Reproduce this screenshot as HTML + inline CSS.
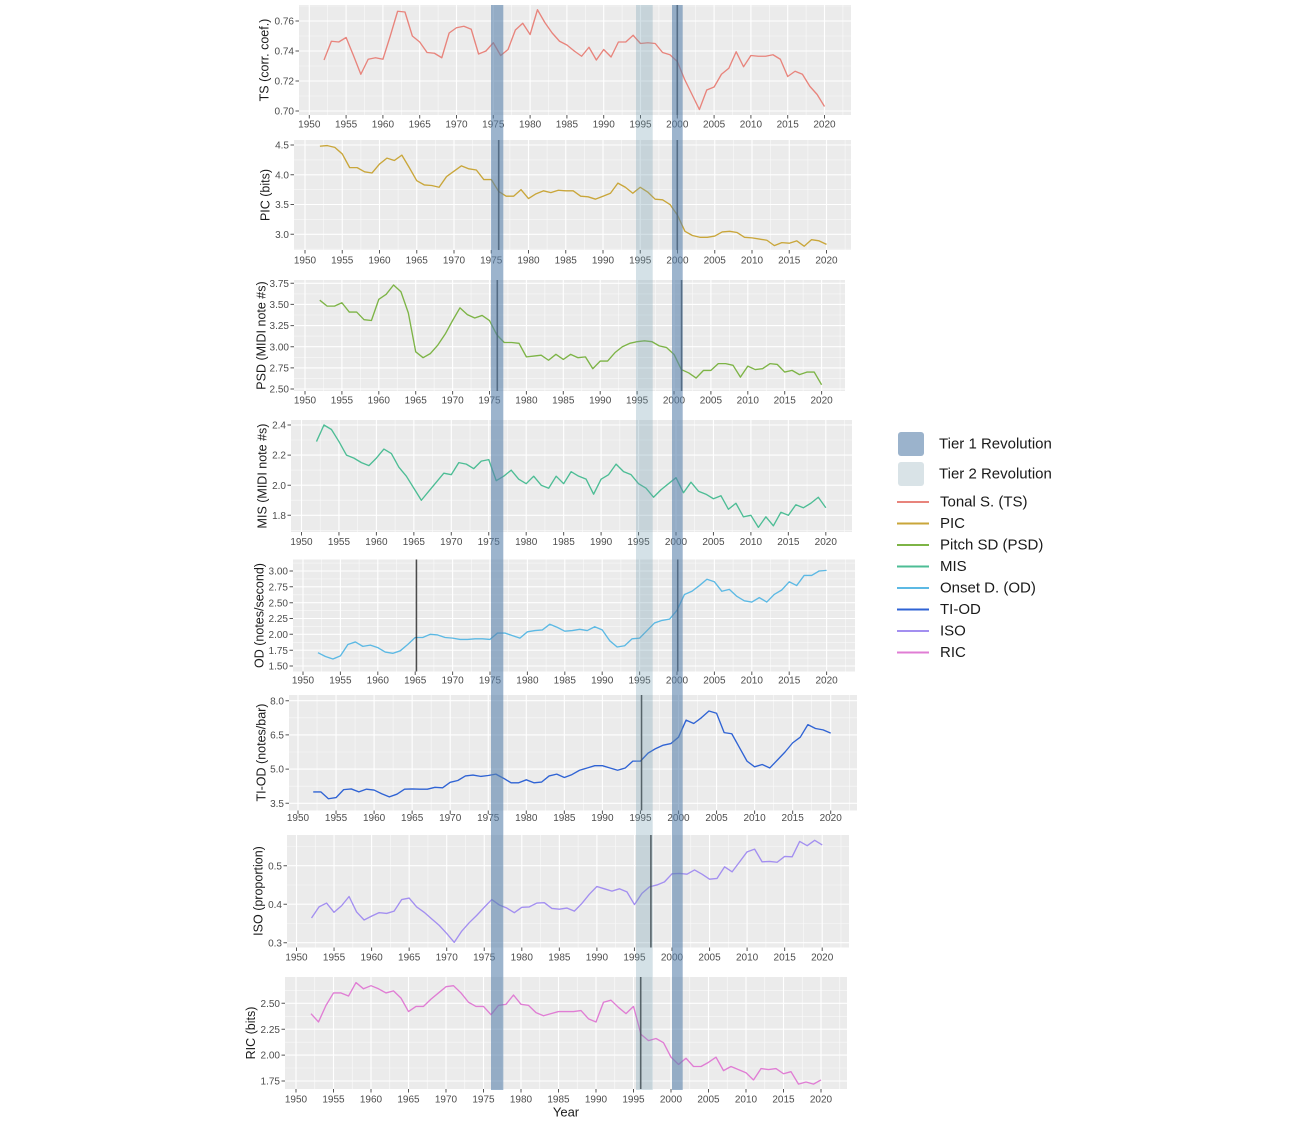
<!DOCTYPE html>
<html><head><meta charset="utf-8"><style>
html,body{margin:0;padding:0;background:#fff;width:1300px;height:1122px;overflow:hidden;}
svg{display:block;font-family:"Liberation Sans",Arial,sans-serif;}
.mj{stroke:#fff;stroke-width:1.1;fill:none;}
.mn{stroke:#fafafa;stroke-width:0.6;fill:none;}
.ln{fill:none;stroke-width:1.35;stroke-linejoin:round;vector-effect:non-scaling-stroke;}
.tk{stroke:#555;stroke-width:1;fill:none;}
.vl{stroke:#262626;stroke-width:1.6;opacity:0.9;}
</style></head><body>
<svg width="1300" height="1122" viewBox="0 0 1300 1122" xmlns="http://www.w3.org/2000/svg">
<defs>
<path id="vm" class="mj" vector-effect="non-scaling-stroke" d="M0 0V1122M5 0V1122M10 0V1122M15 0V1122M20 0V1122M25 0V1122M30 0V1122M35 0V1122M40 0V1122M45 0V1122M50 0V1122M55 0V1122M60 0V1122M65 0V1122M70 0V1122M75 0V1122"/>
<path id="vn" class="mn" vector-effect="non-scaling-stroke" d="M-2.5 0V1122M2.5 0V1122M7.5 0V1122M12.5 0V1122M17.5 0V1122M22.5 0V1122M27.5 0V1122M32.5 0V1122M37.5 0V1122M42.5 0V1122M47.5 0V1122M52.5 0V1122M57.5 0V1122M62.5 0V1122M67.5 0V1122M72.5 0V1122"/>
<path id="xt" class="tk" vector-effect="non-scaling-stroke" d="M0 0V3.5M5 0V3.5M10 0V3.5M15 0V3.5M20 0V3.5M25 0V3.5M30 0V3.5M35 0V3.5M40 0V3.5M45 0V3.5M50 0V3.5M55 0V3.5M60 0V3.5M65 0V3.5M70 0V3.5"/>
<clipPath id="c1"><rect x="299" y="5" width="552" height="110"/></clipPath>
<clipPath id="c2"><rect x="294" y="140" width="557" height="110"/></clipPath>
<clipPath id="c3"><rect x="294" y="280" width="551" height="111"/></clipPath>
<clipPath id="c4"><rect x="291" y="420" width="561" height="112"/></clipPath>
<clipPath id="c5"><rect x="293" y="559.5" width="562" height="112"/></clipPath>
<clipPath id="c6"><rect x="289" y="695" width="568" height="115.5"/></clipPath>
<clipPath id="c7"><rect x="287" y="835" width="562" height="112.5"/></clipPath>
<clipPath id="c8"><rect x="285" y="977" width="562" height="112"/></clipPath>
</defs>

<!-- Panel backgrounds -->
<rect x="299" y="5" width="552" height="110" fill="#ebebeb"/>
<rect x="294" y="140" width="557" height="110" fill="#ebebeb"/>
<rect x="294" y="280" width="551" height="111" fill="#ebebeb"/>
<rect x="291" y="420" width="561" height="112" fill="#ebebeb"/>
<rect x="293" y="559.5" width="562" height="112" fill="#ebebeb"/>
<rect x="289" y="695" width="568" height="115.5" fill="#ebebeb"/>
<rect x="287" y="835" width="562" height="112.5" fill="#ebebeb"/>
<rect x="285" y="977" width="562" height="112" fill="#ebebeb"/>

<!-- P1 TS -->
<g clip-path="url(#c1)">
<use href="#vn" transform="translate(309.3,0) scale(7.36,1)"/>
<path class="mn" d="M0 6H1300M0 36H1300M0 66H1300M0 96H1300"/>
<use href="#vm" transform="translate(309.3,0) scale(7.36,1)"/>
<path class="mj" d="M0 21H1300M0 51H1300M0 81H1300M0 111H1300"/>
<polyline class="ln" stroke="#e8847c" transform="translate(309.3,1161) scale(7.36,-1500)" points="2,.734 3,.7465 4,.746 5,.749 6,.737 7,.7245 8,.7345 9,.7355 10,.7345 11,.750 12,.7665 13,.766 14,.750 15,.746 16,.739 17,.7385 18,.7355 19,.752 20,.7555 21,.7565 22,.7545 23,.738 24,.740 25,.7455 26,.737 27,.741 28,.754 29,.7585 30,.751 31,.7675 32,.759 33,.752 34,.7465 35,.744 36,.740 37,.7365 38,.7425 39,.734 40,.741 41,.736 42,.746 43,.746 44,.7505 45,.745 46,.7455 47,.745 48,.739 49,.7375 50,.733 51,.721 52,.711 53,.701 54,.714 55,.716 56,.7245 57,.7285 58,.7395 59,.7295 60,.737 61,.7365 62,.7365 63,.7375 64,.7345 65,.723 66,.7265 67,.7245 68,.7165 69,.711 70,.703"/>
</g>
<path class="tk" d="M295.5 21H299M295.5 51H299M295.5 81H299M295.5 111H299"/>
<use href="#xt" transform="translate(309.3,115) scale(7.36,1)"/>

<!-- P2 PIC -->
<g clip-path="url(#c2)">
<use href="#vn" transform="translate(305,0) scale(7.45,1)"/>
<path class="mn" d="M0 159.9H1300M0 189.7H1300M0 219.4H1300M0 249.2H1300"/>
<use href="#vm" transform="translate(305,0) scale(7.45,1)"/>
<path class="mj" d="M0 145H1300M0 174.8H1300M0 204.5H1300M0 234.3H1300"/>
<polyline class="ln" stroke="#c9a63a" transform="translate(305,412.89) scale(7.45,-59.53)" points="2,4.48 3,4.49 4,4.46 5,4.35 6,4.12 7,4.12 8,4.05 9,4.03 10,4.18 11,4.28 12,4.24 13,4.33 14,4.12 15,3.90 16,3.83 17,3.82 18,3.79 19,3.97 20,4.06 21,4.15 22,4.10 23,4.08 24,3.92 25,3.92 26,3.72 27,3.64 28,3.64 29,3.75 30,3.60 31,3.68 32,3.73 33,3.70 34,3.74 35,3.73 36,3.73 37,3.64 38,3.63 39,3.59 40,3.64 41,3.69 42,3.86 43,3.79 44,3.69 45,3.79 46,3.71 47,3.59 48,3.58 49,3.50 50,3.32 51,3.05 52,2.98 53,2.95 54,2.95 55,2.97 56,3.04 57,3.05 58,3.03 59,2.95 60,2.94 61,2.92 62,2.90 63,2.81 64,2.86 65,2.85 66,2.89 67,2.80 68,2.91 69,2.89 70,2.83"/>
</g>
<path class="tk" d="M290.5 145H294M290.5 174.8H294M290.5 204.5H294M290.5 234.3H294"/>
<use href="#xt" transform="translate(305,250) scale(7.45,1)"/>

<!-- P3 PSD -->
<g clip-path="url(#c3)">
<use href="#vn" transform="translate(305,0) scale(7.38,1)"/>
<path class="mn" d="M0 293.9H1300M0 315H1300M0 336.1H1300M0 357.3H1300M0 378.4H1300"/>
<use href="#vm" transform="translate(305,0) scale(7.38,1)"/>
<path class="mj" d="M0 283.3H1300M0 304.4H1300M0 325.6H1300M0 346.7H1300M0 367.9H1300M0 389H1300"/>
<polyline class="ln" stroke="#7db446" transform="translate(305,600.4) scale(7.38,-84.56)" points="2,3.55 3,3.48 4,3.48 5,3.52 6,3.41 7,3.41 8,3.32 9,3.31 10,3.56 11,3.62 12,3.73 13,3.65 14,3.40 15,2.94 16,2.87 17,2.92 18,3.02 19,3.15 20,3.31 21,3.46 22,3.38 23,3.34 24,3.37 25,3.31 26,3.14 27,3.05 28,3.05 29,3.04 30,2.88 31,2.89 32,2.90 33,2.84 34,2.91 35,2.85 36,2.91 37,2.87 38,2.88 39,2.74 40,2.83 41,2.83 42,2.93 43,3.00 44,3.04 45,3.06 46,3.07 47,3.06 48,3.01 49,2.99 50,2.91 51,2.73 52,2.69 53,2.63 54,2.72 55,2.72 56,2.80 57,2.80 58,2.78 59,2.64 60,2.77 61,2.73 62,2.74 63,2.80 64,2.79 65,2.70 66,2.72 67,2.67 68,2.70 69,2.70 70,2.55"/>
</g>
<path class="tk" d="M290.5 283.3H294M290.5 304.4H294M290.5 325.6H294M290.5 346.7H294M290.5 367.9H294M290.5 389H294"/>
<use href="#xt" transform="translate(305,391) scale(7.38,1)"/>

<!-- P4 MIS -->
<g clip-path="url(#c4)">
<use href="#vn" transform="translate(301.5,0) scale(7.49,1)"/>
<path class="mn" d="M0 440H1300M0 470.1H1300M0 500.2H1300M0 530.4H1300"/>
<use href="#vm" transform="translate(301.5,0) scale(7.49,1)"/>
<path class="mj" d="M0 425H1300M0 455.1H1300M0 485.2H1300M0 515.3H1300"/>
<polyline class="ln" stroke="#4dbd95" transform="translate(301.5,786.2) scale(7.49,-150.5)" points="2,2.29 3,2.40 4,2.37 5,2.29 6,2.20 7,2.18 8,2.15 9,2.13 10,2.18 11,2.24 12,2.21 13,2.12 14,2.06 15,1.98 16,1.90 17,1.96 18,2.02 19,2.08 20,2.07 21,2.15 22,2.14 23,2.11 24,2.16 25,2.17 26,2.03 27,2.06 28,2.10 29,2.04 30,2.01 31,2.06 32,2.00 33,1.98 34,2.06 35,2.01 36,2.09 37,2.06 38,2.04 39,1.94 40,2.04 41,2.07 42,2.14 43,2.09 44,2.07 45,2.01 46,1.98 47,1.92 48,1.97 49,2.01 50,2.05 51,1.95 52,2.02 53,1.96 54,1.94 55,1.91 56,1.93 57,1.84 58,1.88 59,1.79 60,1.80 61,1.72 62,1.79 63,1.73 64,1.82 65,1.80 66,1.87 67,1.85 68,1.88 69,1.92 70,1.85"/>
</g>
<path class="tk" d="M287.5 425H291M287.5 455.1H291M287.5 485.2H291M287.5 515.3H291"/>
<use href="#xt" transform="translate(301.5,532) scale(7.49,1)"/>

<!-- P5 OD -->
<g clip-path="url(#c5)">
<use href="#vn" transform="translate(303,0) scale(7.48,1)"/>
<path class="mn" d="M0 563.1H1300M0 578.9H1300M0 594.8H1300M0 610.6H1300M0 626.4H1300M0 642.3H1300M0 658.1H1300"/>
<use href="#vm" transform="translate(303,0) scale(7.48,1)"/>
<path class="mj" d="M0 571H1300M0 586.8H1300M0 602.7H1300M0 618.5H1300M0 634.3H1300M0 650.2H1300M0 666H1300"/>
<polyline class="ln" stroke="#5cb9e4" transform="translate(303,761) scale(7.48,-63.33)" points="2,1.71 3,1.65 4,1.61 5,1.66 6,1.84 7,1.88 8,1.81 9,1.83 10,1.79 11,1.72 12,1.70 13,1.74 14,1.84 15,1.95 16,1.95 17,2.00 18,1.99 19,1.95 20,1.94 21,1.92 22,1.92 23,1.93 24,1.93 25,1.92 26,2.02 27,2.02 28,1.98 29,1.94 30,2.04 31,2.06 32,2.07 33,2.16 34,2.11 35,2.05 36,2.06 37,2.08 38,2.06 39,2.12 40,2.07 41,1.90 42,1.80 43,1.82 44,1.93 45,1.94 46,2.06 47,2.18 48,2.22 49,2.24 50,2.38 51,2.63 52,2.68 53,2.77 54,2.87 55,2.83 56,2.68 57,2.71 58,2.60 59,2.53 60,2.51 61,2.58 62,2.51 63,2.63 64,2.70 65,2.83 66,2.77 67,2.93 68,2.93 69,3.00 70,3.01"/>
</g>
<path class="tk" d="M289.5 571H293M289.5 586.8H293M289.5 602.7H293M289.5 618.5H293M289.5 634.3H293M289.5 650.2H293M289.5 666H293"/>
<use href="#xt" transform="translate(303,671.5) scale(7.48,1)"/>

<!-- P6 TI-OD -->
<g clip-path="url(#c6)">
<use href="#vn" transform="translate(298,0) scale(7.61,1)"/>
<path class="mn" d="M0 717.8H1300M0 752H1300M0 786.2H1300"/>
<use href="#vm" transform="translate(298,0) scale(7.61,1)"/>
<path class="mj" d="M0 700.7H1300M0 734.9H1300M0 769.1H1300M0 803.3H1300"/>
<polyline class="ln" stroke="#2f63d4" transform="translate(298,883.1) scale(7.61,-22.8)" points="2,4.00 3,4.00 4,3.70 5,3.75 6,4.10 7,4.13 8,4.00 9,4.12 10,4.08 11,3.92 12,3.78 13,3.90 14,4.12 15,4.13 16,4.12 17,4.12 18,4.20 19,4.18 20,4.42 21,4.50 22,4.70 23,4.74 24,4.68 25,4.72 26,4.78 27,4.60 28,4.40 29,4.40 30,4.53 31,4.40 32,4.43 33,4.70 34,4.78 35,4.63 36,4.76 37,4.95 38,5.05 39,5.15 40,5.15 41,5.05 42,4.95 43,5.05 44,5.35 45,5.35 46,5.70 47,5.90 48,6.05 49,6.12 50,6.40 51,7.15 52,7.00 53,7.25 54,7.55 55,7.45 56,6.60 57,6.55 58,5.95 59,5.35 60,5.10 61,5.20 62,5.05 63,5.40 64,5.75 65,6.15 66,6.40 67,6.95 68,6.78 69,6.72 70,6.58"/>
</g>
<path class="tk" d="M285.5 700.7H289M285.5 734.9H289M285.5 769.1H289M285.5 803.3H289"/>
<use href="#xt" transform="translate(298,810.5) scale(7.61,1)"/>

<!-- P7 ISO -->
<g clip-path="url(#c7)">
<use href="#vn" transform="translate(296.5,0) scale(7.51,1)"/>
<path class="mn" d="M0 846.5H1300M0 885H1300M0 923.5H1300"/>
<use href="#vm" transform="translate(296.5,0) scale(7.51,1)"/>
<path class="mj" d="M0 865.7H1300M0 904.2H1300M0 942.7H1300"/>
<polyline class="ln" stroke="#a38ff0" transform="translate(296.5,1058.2) scale(7.51,-385)" points="2,.364 3,.393 4,.403 5,.379 6,.396 7,.420 8,.380 9,.359 10,.369 11,.378 12,.376 13,.382 14,.412 15,.416 16,.393 17,.379 18,.362 19,.345 20,.324 21,.301 22,.330 23,.352 24,.371 25,.392 26,.412 27,.398 28,.390 29,.378 30,.392 31,.393 32,.403 33,.404 34,.389 35,.387 36,.390 37,.382 38,.402 39,.426 40,.446 41,.440 42,.434 43,.440 44,.432 45,.399 46,.428 47,.445 48,.450 49,.458 50,.479 51,.480 52,.478 53,.489 54,.478 55,.465 56,.467 57,.497 58,.484 59,.510 60,.536 61,.543 62,.510 63,.511 64,.509 65,.524 66,.523 67,.563 68,.552 69,.566 70,.554"/>
</g>
<path class="tk" d="M283.5 865.7H287M283.5 904.2H287M283.5 942.7H287"/>
<use href="#xt" transform="translate(296.5,947.5) scale(7.51,1)"/>

<!-- P8 RIC -->
<g clip-path="url(#c8)">
<use href="#vn" transform="translate(296,0) scale(7.5,1)"/>
<path class="mn" d="M0 990.4H1300M0 1016.3H1300M0 1042.2H1300M0 1068H1300"/>
<use href="#vm" transform="translate(296,0) scale(7.5,1)"/>
<path class="mj" d="M0 1003.3H1300M0 1029.2H1300M0 1055.1H1300M0 1081H1300"/>
<polyline class="ln" stroke="#e07dd4" transform="translate(296,1262.3) scale(7.5,-103.6)" points="2,2.40 3,2.32 4,2.48 5,2.60 6,2.60 7,2.57 8,2.70 9,2.64 10,2.67 11,2.64 12,2.60 13,2.62 14,2.55 15,2.42 16,2.47 17,2.47 18,2.54 19,2.60 20,2.66 21,2.67 22,2.60 23,2.51 24,2.47 25,2.47 26,2.39 27,2.48 28,2.49 29,2.58 30,2.49 31,2.48 32,2.41 33,2.38 34,2.40 35,2.42 36,2.42 37,2.42 38,2.43 39,2.35 40,2.32 41,2.51 42,2.53 43,2.46 44,2.40 45,2.47 46,2.20 47,2.14 48,2.16 49,2.12 50,1.98 51,1.91 52,1.97 53,1.89 54,1.89 55,1.93 56,1.98 57,1.85 58,1.89 59,1.86 60,1.83 61,1.76 62,1.87 63,1.86 64,1.87 65,1.82 66,1.84 67,1.72 68,1.74 69,1.72 70,1.76"/>
</g>
<path class="tk" d="M281.5 1003.3H285M281.5 1029.2H285M281.5 1055.1H285M281.5 1081H285"/>
<use href="#xt" transform="translate(296,1089) scale(7.5,1)"/>

<!-- X tick labels -->
<g font-size="10" fill="#4d4d4d" text-anchor="middle">
<g transform="translate(0,127.6)">
<text x="309.3">1950</text><text x="346.1">1955</text><text x="382.9">1960</text><text x="419.7">1965</text><text x="456.5">1970</text><text x="493.3">1975</text><text x="530.1">1980</text><text x="566.9">1985</text><text x="603.7">1990</text><text x="640.5">1995</text><text x="677.3">2000</text><text x="714.1">2005</text><text x="750.9">2010</text><text x="787.7">2015</text><text x="824.5">2020</text>
</g>
<g transform="translate(0,263.6)">
<text x="305">1950</text><text x="342.25">1955</text><text x="379.5">1960</text><text x="416.75">1965</text><text x="454">1970</text><text x="491.25">1975</text><text x="528.5">1980</text><text x="565.75">1985</text><text x="603">1990</text><text x="640.25">1995</text><text x="677.5">2000</text><text x="714.75">2005</text><text x="752">2010</text><text x="789.25">2015</text><text x="826.5">2020</text>
</g>
<g transform="translate(0,403.6)">
<text x="305">1950</text><text x="341.9">1955</text><text x="378.8">1960</text><text x="415.7">1965</text><text x="452.6">1970</text><text x="489.5">1975</text><text x="526.4">1980</text><text x="563.3">1985</text><text x="600.2">1990</text><text x="637.1">1995</text><text x="674">2000</text><text x="710.9">2005</text><text x="747.8">2010</text><text x="784.7">2015</text><text x="821.6">2020</text>
</g>
<g transform="translate(0,544.9)">
<text x="301.5">1950</text><text x="338.95">1955</text><text x="376.4">1960</text><text x="413.85">1965</text><text x="451.3">1970</text><text x="488.75">1975</text><text x="526.2">1980</text><text x="563.65">1985</text><text x="601.1">1990</text><text x="638.55">1995</text><text x="676">2000</text><text x="713.45">2005</text><text x="750.9">2010</text><text x="788.35">2015</text><text x="825.8">2020</text>
</g>
<g transform="translate(0,683.6)">
<text x="303">1950</text><text x="340.4">1955</text><text x="377.8">1960</text><text x="415.2">1965</text><text x="452.6">1970</text><text x="490">1975</text><text x="527.4">1980</text><text x="564.8">1985</text><text x="602.2">1990</text><text x="639.6">1995</text><text x="677">2000</text><text x="714.4">2005</text><text x="751.8">2010</text><text x="789.2">2015</text><text x="826.6">2020</text>
</g>
<g transform="translate(0,821.1)">
<text x="298">1950</text><text x="336.05">1955</text><text x="374.1">1960</text><text x="412.15">1965</text><text x="450.2">1970</text><text x="488.25">1975</text><text x="526.3">1980</text><text x="564.35">1985</text><text x="602.4">1990</text><text x="640.45">1995</text><text x="678.5">2000</text><text x="716.55">2005</text><text x="754.6">2010</text><text x="792.65">2015</text><text x="830.7">2020</text>
</g>
<g transform="translate(0,960.3)">
<text x="296.5">1950</text><text x="334.05">1955</text><text x="371.6">1960</text><text x="409.15">1965</text><text x="446.7">1970</text><text x="484.25">1975</text><text x="521.8">1980</text><text x="559.35">1985</text><text x="596.9">1990</text><text x="634.45">1995</text><text x="672">2000</text><text x="709.55">2005</text><text x="747.1">2010</text><text x="784.65">2015</text><text x="822.2">2020</text>
</g>
<g transform="translate(0,1102.6)">
<text x="296">1950</text><text x="333.5">1955</text><text x="371">1960</text><text x="408.5">1965</text><text x="446">1970</text><text x="483.5">1975</text><text x="521">1980</text><text x="558.5">1985</text><text x="596">1990</text><text x="633.5">1995</text><text x="671">2000</text><text x="708.5">2005</text><text x="746">2010</text><text x="783.5">2015</text><text x="821">2020</text>
</g>
</g>

<!-- Y tick labels -->
<g font-size="10" fill="#4d4d4d" text-anchor="end">
<text x="294" y="24.6">0.76</text><text x="294" y="54.6">0.74</text><text x="294" y="84.6">0.72</text><text x="294" y="114.6">0.70</text>
<text x="289" y="148.6">4.5</text><text x="289" y="178.4">4.0</text><text x="289" y="208.1">3.5</text><text x="289" y="237.9">3.0</text>
<text x="289" y="286.9">3.75</text><text x="289" y="308">3.50</text><text x="289" y="329.2">3.25</text><text x="289" y="350.3">3.00</text><text x="289" y="371.5">2.75</text><text x="289" y="392.6">2.50</text>
<text x="286" y="428.6">2.4</text><text x="286" y="458.7">2.2</text><text x="286" y="488.8">2.0</text><text x="286" y="518.9">1.8</text>
<text x="288" y="574.6">3.00</text><text x="288" y="590.4">2.75</text><text x="288" y="606.3">2.50</text><text x="288" y="622.1">2.25</text><text x="288" y="637.9">2.00</text><text x="288" y="653.8">1.75</text><text x="288" y="669.6">1.50</text>
<text x="284" y="704.3">8.0</text><text x="284" y="738.5">6.5</text><text x="284" y="772.7">5.0</text><text x="284" y="806.9">3.5</text>
<text x="282" y="869.3">0.5</text><text x="282" y="907.8">0.4</text><text x="282" y="946.3">0.3</text>
<text x="280" y="1006.9">2.50</text><text x="280" y="1032.8">2.25</text><text x="280" y="1058.7">2.00</text><text x="280" y="1084.6">1.75</text>
</g>

<!-- Y axis titles -->
<g font-size="12.5" fill="#1a1a1a" text-anchor="middle" dominant-baseline="central">
<text transform="translate(264.5,60) rotate(-90)">TS (corr. coef.)</text>
<text transform="translate(265.5,195) rotate(-90)">PIC (bits)</text>
<text transform="translate(261.5,335.5) rotate(-90)">PSD (MIDI note #s)</text>
<text transform="translate(262.5,476) rotate(-90)">MIS (MIDI note #s)</text>
<text transform="translate(259.5,615.5) rotate(-90)">OD (notes/second)</text>
<text transform="translate(261.5,752.5) rotate(-90)">TI-OD (notes/bar)</text>
<text transform="translate(258.5,891) rotate(-90)">ISO (proportion)</text>
<text transform="translate(251,1033) rotate(-90)">RIC (bits)</text>
</g>
<text x="566" y="1116.5" font-size="13" fill="#1a1a1a" text-anchor="middle">Year</text>

<!-- Vertical change-point lines -->
<g class="vl">
<path class="vl" d="M677.3 5V115"/>
<path class="vl" d="M498.7 140V250M677.3 140V250"/>
<path class="vl" d="M497.3 280V391M681.6 280V391"/>
<path class="vl" d="M416.4 559.5V671.5M677.7 559.5V671.5"/>
<path class="vl" d="M641.5 695V810.5"/>
<path class="vl" d="M650.9 835V947.5"/>
<path class="vl" d="M640.7 977V1089"/>
</g>

<!-- Revolution bands -->
<rect x="491" y="5" width="12.3" height="1085" fill="rgb(90,130,172)" fill-opacity="0.6"/>
<rect x="636" y="5" width="16.7" height="1085" fill="rgb(112,155,175)" fill-opacity="0.3"/>
<rect x="672" y="5" width="10.7" height="1085" fill="rgb(90,130,172)" fill-opacity="0.6"/>

<!-- Legend -->
<rect x="898" y="432" width="26" height="24" rx="3" fill="#9bb3cc"/>
<rect x="898" y="462" width="26" height="24" rx="3" fill="#d9e3e7"/>
<g font-size="15" fill="#1a1a1a" dominant-baseline="central">
<text x="939" y="444">Tier 1 Revolution</text>
<text x="939" y="474">Tier 2 Revolution</text>
<text x="940" y="502">Tonal S. (TS)</text>
<text x="940" y="523.5">PIC</text>
<text x="940" y="545">Pitch SD (PSD)</text>
<text x="940" y="566.5">MIS</text>
<text x="940" y="588">Onset D. (OD)</text>
<text x="940" y="609.5">TI-OD</text>
<text x="940" y="631">ISO</text>
<text x="940" y="652.5">RIC</text>
</g>
<g stroke-width="2">
<path d="M897 502H929" stroke="#e8847c"/>
<path d="M897 523.5H929" stroke="#c9a63a"/>
<path d="M897 545H929" stroke="#7db446"/>
<path d="M897 566.5H929" stroke="#4dbd95"/>
<path d="M897 588H929" stroke="#5cb9e4"/>
<path d="M897 609.5H929" stroke="#2f63d4"/>
<path d="M897 631H929" stroke="#a38ff0"/>
<path d="M897 652.5H929" stroke="#e07dd4"/>
</g>
</svg>
</body></html>
